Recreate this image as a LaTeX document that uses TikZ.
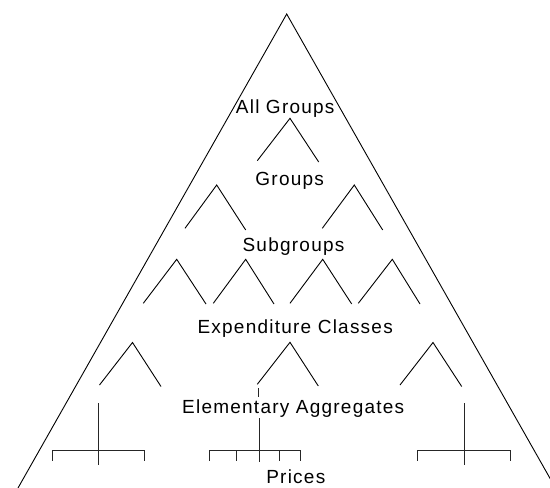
\documentclass[tikz,border=0pt]{standalone}
\usepackage{fontspec}
\setmainfont{Liberation Sans}[LetterSpace=6.5]
\begin{document}
\begin{tikzpicture}[x=1pt,y=-1pt,line width=0.9pt,
  lbl/.style={anchor=base,inner sep=0pt,font=\fontsize{19}{22}\selectfont},
  caretline/.style={draw=black,line width=0.9pt},
  bracketline/.style={draw=black!85,line width=0.9pt}]
\useasboundingbox (0,0) rectangle (550,488);
\clip (0,0) rectangle (550,488);
% outer triangle
\coordinate (apex) at (286.7,14);
\coordinate (bl) at (18,488);
\coordinate (br) at (555.5,488);
\draw[caretline] (bl) -- (apex) -- (br);
% labels
\node[lbl] (allg) at (285.2,113.3) {All Groups};
\node[lbl] (grp) at (289.7,185) {Groups};
\node[lbl] (sub) at (293.5,251.7) {Subgroups};
\node[lbl] (exp) at (295.2,333.3) {Expenditure Classes};
\node[lbl] (ele) at (293.2,413.3) {Elementary Aggregates};
\node[lbl] (pri) at (295.8,483.3) {Prices};
% level 1 caret
\draw[caretline] (257.3,160.7) -- (290,118.3) -- (318.7,162);
% level 2 carets
\draw[caretline] (185,228.3) -- (216.7,185) -- (245.7,230);
\draw[caretline] (322.3,228.3) -- (354.3,185) -- (382.7,230);
% level 3 carets
\draw[caretline] (143.3,303.3) -- (176.7,259.3) -- (206,304);
\draw[caretline] (213.3,303.3) -- (245.7,259.3) -- (274,304);
\draw[caretline] (290,303.3) -- (322.7,259.3) -- (351.7,304);
\draw[caretline] (358.3,303.3) -- (392.3,259.3) -- (420,304);
% level 4 carets
\draw[caretline] (99.5,385) -- (132.5,342.5) -- (161,386.5);
\draw[caretline] (257.3,384.3) -- (290,342.3) -- (318.3,386);
\draw[caretline] (400,385) -- (433,342.5) -- (461.7,386.5);
% left bracket
\draw[bracketline] (98.3,403.3) -- (98.3,465);
\draw[bracketline] (52.3,460.7) -- (52.3,450.3) -- (144.3,450.3) -- (144.3,460.7);
% right bracket
\draw[bracketline] (464.3,403.3) -- (464.3,465);
\draw[bracketline] (417.7,460.7) -- (417.7,450.3) -- (510,450.3) -- (510,460.7);
% middle bracket
\draw[bracketline] (258,388.3) -- (258,397);
\draw[bracketline] (259,418) -- (259,461.7);
\draw[bracketline] (209.3,460.7) -- (209.3,450.3) -- (300.7,450.3) -- (300.7,460.7);
\draw[bracketline] (236,450.3) -- (236,460.7);
\draw[bracketline] (279,450.3) -- (279,460.7);
\end{tikzpicture}
\end{document}
